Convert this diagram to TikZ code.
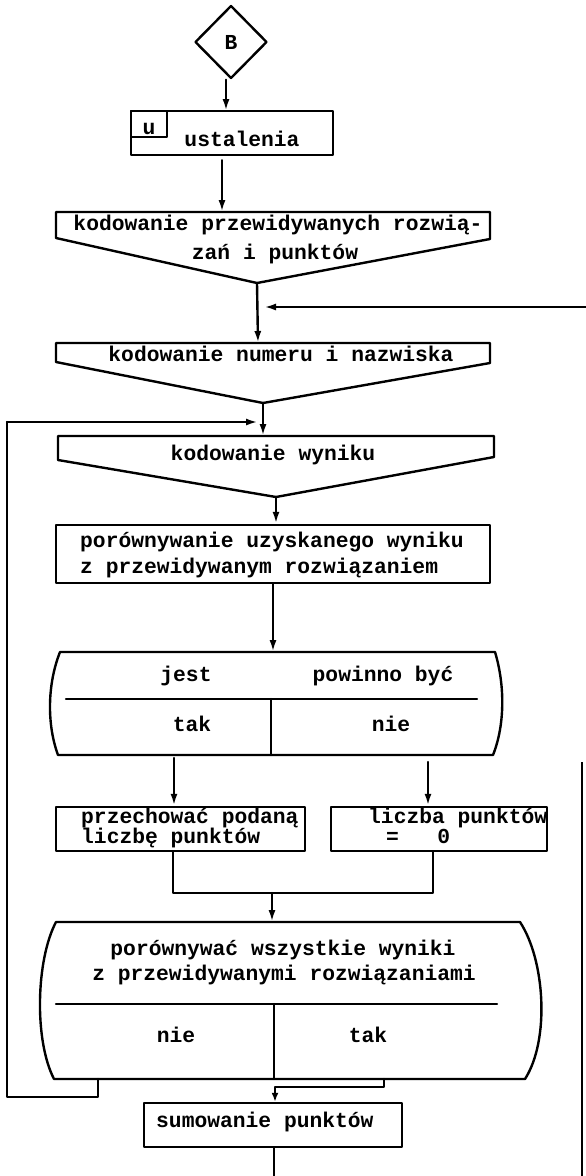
\documentclass[tikz,border=0pt]{standalone}
\usepackage{fontspec}
\newfontfamily\tw{Liberation Mono}
\usetikzlibrary{arrows.meta,shapes.geometric}
\begin{document}
\begin{tikzpicture}[x=1pt,y=-1pt,
  ln/.style={line width=2.4pt, line join=round, line cap=round},
  thinln/.style={line width=1.8pt},
  arr/.style={ln, -{Latex[length=12pt,width=7pt]}},
  box/.style={draw, ln, inner sep=0pt},
  tx/.style={font=\tw\bfseries\fontsize{21.3}{26}\selectfont, inner sep=0pt, anchor=base},
  txl/.style={tx, anchor=base west},
]
\fill[white] (0,0) rectangle (586,1176);
\useasboundingbox (0,0) rectangle (586,1176);

% start connector
\node[box, diamond, minimum width=72pt, minimum height=73pt, font=\tw\bfseries\fontsize{21.3}{26}\selectfont] (dia) at (231,42) {B};

% ustalenia
\node[box, minimum width=202pt, minimum height=44pt] (ust) at (232,133) {};
\node[box, minimum width=36pt, minimum height=26pt, anchor=north west] (ubox) at (ust.north west) {};
\node[tx] (u) at (149,134) {u};
\node[tx] (ustl) at (242,146) {ustalenia};
\coordinate (ustin) at (226,111);
\draw[arr] (dia.south -| ustin) -- (ustin);

% kodowanie przewidywanych
\coordinate (k1in) at (222,212);
\coordinate (k1tip) at (257,283);
\draw[ln] (56,212) -- (490,212) -- (490,239) -- (k1tip) -- (56,238) -- cycle;
\node[tx] (k1a) at (278,230) {kodowanie przewidywanych rozwią-};
\node[tx] (k1b) at (275,259) {zań i punktów};
\draw[arr, shorten <=4pt] (ust.south -| k1in) -- (k1in);

% kodowanie numeru
\coordinate (k2in) at (258,343);
\coordinate (k2tip) at (263,403);
\draw[ln] (56,343) -- (490,343) -- (490,363) -- (k2tip) -- (56,362) -- cycle;
\node[tx] (k2) at (281,361) {kodowanie numeru i nazwiska};
\draw[arr] (k1tip) -- (k2in);
\coordinate (retR) at (586,307);
\coordinate (retE) at (264,307);
\draw[arr] (retR) -- (retE);

% kodowanie wyniku
\coordinate (k3in) at (263,436);
\coordinate (k3tip) at (276,497);
\draw[ln] (58,436) -- (494,436) -- (494,457) -- (k3tip) -- (58,460) -- cycle;
\node[tx] (k3) at (273,460) {kodowanie wyniku};
\draw[arr] (k2tip) -- (k3in);
\coordinate (loopT) at (7,422);
\coordinate (loopE) at (258,422);
\draw[arr] (loopT) -- (loopE);

% porownywanie
\node[box, minimum width=434pt, minimum height=58pt] (por) at (273,554) {};
\node[txl] (pora) at (80,547) {porównywanie uzyskanego wyniku};
\node[txl] (porb) at (80,573) {z przewidywanym rozwiązaniem};
\draw[arr] (k3tip) -- (k3tip |- por.north);

% decision 1
\coordinate (b1in) at (273,652);
\draw[ln] (60,652) -- (495,652) .. controls (505,685) and (505,725) .. (493,755)
  -- (58,755) .. controls (47,725) and (47,685) .. (60,652) -- cycle;
\draw[ln] (66,699) -- (477,699);
\draw[ln] (271,699) -- (271,755);
\node[tx] (jest) at (186,681) {jest};
\node[tx] (pow) at (383,681) {powinno być};
\node[tx] (tak1) at (192,731) {tak};
\node[tx] (nie1) at (391,731) {nie};
\draw[arr] (por.south -| b1in) -- (b1in);

% two boxes
\node[box, minimum width=249pt, minimum height=44pt] (lb) at (180.5,829) {};
\node[box, minimum width=216pt, minimum height=44pt] (rb) at (439,829) {};
\node[txl] (lba) at (81,823) {przechować podaną};
\node[txl] (lbb) at (81,843) {liczbę punktów};
\node[txl] (rba) at (368,823) {liczba punktów};
\node[txl] (rbb) at (386,843) {=\ \ \ 0};
\coordinate (b1l) at (174,758);
\coordinate (b1r) at (428,762);
\draw[arr] (b1l) -- (b1l |- lb.north);
\draw[arr] (b1r) -- (b1r |- rb.north);

% merge
\coordinate (mL) at (173,893);
\coordinate (mR) at (433,893);
\coordinate (mC) at (272,893);
\coordinate (b2in) at (272,922);
\draw[ln] (lb.south -| mL) -- (mL) -- (mR) -- (rb.south -| mR);
\draw[arr] (mC) -- (b2in);

% decision 2
\draw[ln] (56,922) -- (520,922) .. controls (545,960) and (550,1040) .. (525,1079)
  -- (54,1079) .. controls (34,1040) and (36,960) .. (56,922) -- cycle;
\draw[ln] (56,1004) -- (497,1004);
\draw[ln] (274,1004) -- (274,1079);
\node[tx] (b2a) at (283,955) {porównywać wszystkie wyniki};
\node[tx] (b2b) at (284,980) {z przewidywanymi rozwiązaniami};
\node[tx] (nie2) at (176,1042) {nie};
\node[tx] (tak2) at (368,1042) {tak};

% exits
\coordinate (nieX) at (98,1079);
\coordinate (nieB) at (98,1097);
\coordinate (loopB) at (7,1097);
\draw[ln] (nieX) -- (nieB) -- (loopB) -- (loopT);
\node[box, minimum width=258pt, minimum height=44pt] (sum) at (273,1125) {};
\node[txl] (suml) at (156,1127) {sumowanie punktów};
\coordinate (takX) at (384,1079);
\coordinate (takB) at (384,1087);
\coordinate (takC) at (275,1087);
\draw[ln, -{Latex[length=9pt,width=7pt]}] (takX) -- (takB) -- (takC) -- (takC |- sum.north);
\coordinate (bot) at (274,1176);
\draw[ln] (sum.south -| bot) -- (bot);

% right edge line
\coordinate (rtT) at (582,762);
\coordinate (rtB) at (582,1176);
\draw[thinln] (rtT) -- (rtB);
\end{tikzpicture}
\end{document}
